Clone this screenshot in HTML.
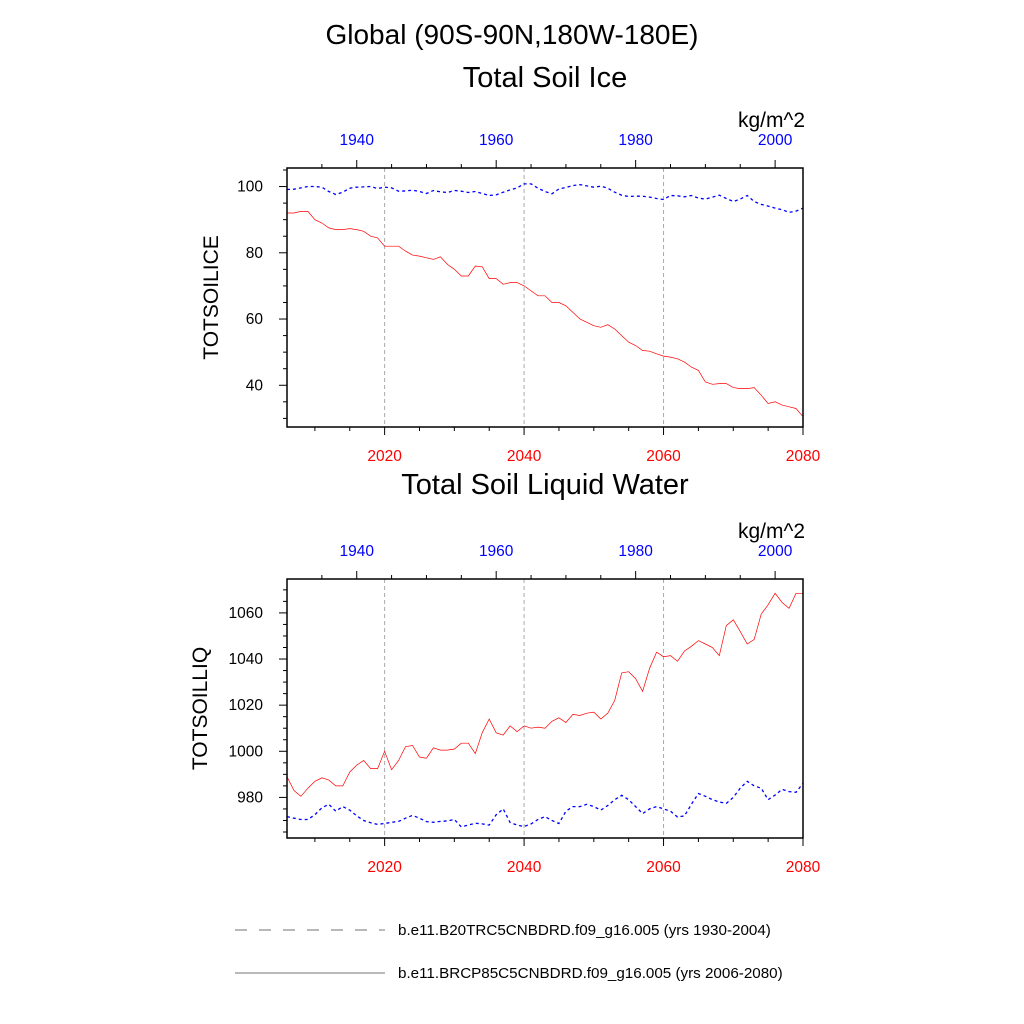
<!DOCTYPE html>
<html><head><meta charset="utf-8"><style>
body{margin:0;background:#fff}
svg{display:block;font-family:"Liberation Sans",sans-serif}
</style></head><body>
<svg id="c" width="1024" height="1024" xmlns="http://www.w3.org/2000/svg">
<text x="512" y="44" font-size="28" text-anchor="middle">Global (90S-90N,180W-180E)</text>
<text x="545" y="87" font-size="29" text-anchor="middle">Total Soil Ice</text>
<text x="545" y="494" font-size="29" text-anchor="middle">Total Soil Liquid Water</text>
<line x1="235" y1="930" x2="385" y2="930" stroke="#444" stroke-width="0.7" stroke-dasharray="12,12"/>
<text x="398" y="935" font-size="15.2">b.e11.B20TRC5CNBDRD.f09_g16.005 (yrs 1930-2004)</text>
<line x1="235" y1="973" x2="385" y2="973" stroke="#444" stroke-width="0.7"/>
<text x="398" y="978" font-size="15.2">b.e11.BRCP85C5CNBDRD.f09_g16.005 (yrs 2006-2080)</text>
</svg>
<script>
const iceFuture=[92,92,92.5,92.5,90,89,87.5,87,87,87.3,87,86.5,85,84.5,82,82,82,80.5,79.3,79,78.5,78,78.8,76.5,75,73,73,76,75.8,72.2,72.2,70.5,71,71,70,68.5,67,67,65,65,64,62,60,59,58,57.5,58.3,57,55,53,52,50.5,50.3,49.5,48.8,48.5,48,47,45.5,44.5,41,40.3,40.5,40.5,39.3,39,39,39.3,37,34.5,35,34,33.5,33,30.5];
const iceHist=[99.1,99.2,99.6,100,100,99.8,98.5,97.6,98.3,99.5,99.8,99.9,100,99.4,99.8,99.6,98.6,98.7,98.9,98.5,97.9,98.8,98.4,98.2,98.8,98.6,98.2,98.5,97.9,97.3,97.5,98.3,99,99.6,100.8,100.8,99.5,98.5,97.8,99.3,99.7,100.3,100.6,100.2,99.8,100.1,99.5,98.3,97.4,97,97.1,97.1,96.8,96.4,96.1,97.3,97.2,96.9,97.3,96.5,96.2,96.8,97.4,96.4,95.5,96.2,97.3,95.5,94.6,94.1,93.5,93,92.2,92.6,93.5];
const liqFuture=[989,983,980.5,984,987,988.5,987.5,985,985,991,994,996,992.5,992.5,1000,992,996,1002,1002.5,997.5,997,1001.5,1000.5,1000.5,1001,1003.5,1003.5,999,1008,1014,1008,1007,1011,1008.5,1011,1010,1010.5,1010,1013,1014.5,1012.5,1016,1015.5,1016.5,1017,1014,1016.5,1022,1034,1034.5,1031.5,1026,1036,1043,1041,1041.5,1039,1043.5,1045.5,1048,1046.5,1045,1041.5,1054.5,1057,1052,1046.5,1048.5,1059.5,1063.5,1068.5,1064.5,1062,1068.5,1068.5];
const liqHist=[971.7,971,970.4,970.4,972.5,975.5,977,974,976,974.5,972,970,969,968.3,968.7,969.2,969.6,971,972.2,971,969.5,969.2,969.6,969.8,970.4,967.2,968,968.8,968.5,968,972.5,975,969.1,968,967.4,968.5,970.4,971.7,970,968.7,974,976,976,977,976,974.5,976.5,979,980.9,979,976,973,975,976,975,974,971.5,972,977,981.7,980.5,979,978,977.4,980,984,987,985,984,979,981,983.5,982.5,982.2,986.1];
const bottomTicks=[2020,2040,2060,2080];
const topTicks=[1940,1960,1980,2000];
const iceTicks=[40,60,80,100];
const liqTicks=[980,1000,1020,1040,1060];

const svg=document.getElementById('c');
const NS='http://www.w3.org/2000/svg';
function mk(t,a,p){const e=document.createElementNS(NS,t);for(const k in a)e.setAttribute(k,a[k]);(p||svg).appendChild(e);return e;}
const X0=287,X1=803;
const xF=y=>X0+(y-2006)/74*(X1-X0);
const xH=y=>X0+(y-1930)/74*(X1-X0);

function panel(name,top,bot,ymin,ymax,yTicks,ylabel,fut,hist){
  const yS=v=>bot-(v-ymin)/(ymax-ymin)*(bot-top);
  const g=mk('g',{});
  
  
  [2020,2040,2060].forEach(t=>{const l=mk('line',{x1:xF(t),x2:xF(t),y1:top,y2:bot,stroke:'#aaa','stroke-width':1,'stroke-dasharray':'4,3'},g);
    });
  const pf=fut.map((v,i)=>xF(2006+i).toFixed(1)+','+yS(v).toFixed(1)).join(' ');
  const lf=mk('polyline',{points:pf,fill:'none',stroke:'#ff0000','stroke-width':0.7},g);
  
  const ph=hist.map((v,i)=>xH(1930+i).toFixed(1)+','+yS(v).toFixed(1)).join(' ');
  const lh=mk('polyline',{points:ph,fill:'none',stroke:'#0000ff','stroke-width':1.3,'stroke-dasharray':'3,3'},g);
  
  const fr=mk('rect',{x:X0,y:top,width:X1-X0,height:bot-top,fill:'none',stroke:'#000','stroke-width':1.5},g);
  
  for(let yr=2010;yr<=2080;yr+=5){const mj=yr%20==0;mk('line',{x1:xF(yr),x2:xF(yr),y1:bot,y2:bot+(mj?8:4),stroke:'#000','stroke-width':1},g);}
  bottomTicks.forEach(t=>{const e=mk('text',{x:xF(t),y:bot+34,'font-size':15.5,fill:'#ff0000','text-anchor':'middle'},g);e.textContent=t;
    });
  for(let yr=1935;yr<=2000;yr+=5){const mj=yr%20==0;mk('line',{x1:xH(yr),x2:xH(yr),y1:top,y2:top-(mj?8:4),stroke:'#000','stroke-width':1},g);}
  topTicks.forEach(t=>{const e=mk('text',{x:xH(t),y:top-23,'font-size':15.5,fill:'#0000ff','text-anchor':'middle'},g);e.textContent=t;
    });
  for(let v=Math.ceil(ymin/5)*5;v<=ymax;v+=5){const mj=v%20==0;mk('line',{x1:X0,x2:X0-(mj?8:4),y1:yS(v),y2:yS(v),stroke:'#000','stroke-width':1},g);}
  yTicks.forEach(t=>{const e=mk('text',{x:X0-24,y:yS(t)+5,'font-size':15.5,'text-anchor':'end'},g);e.textContent=t;
    });
  const yl=mk('text',{x:0,y:0,'font-size':21,'text-anchor':'middle',transform:`translate(${name=='ice'?218:207},${(top+bot)/2}) rotate(-90)`},g);
  yl.textContent=ylabel;
  const u=mk('text',{x:X1+2,y:top-41,'font-size':21,'text-anchor':'end'},g);
  u.textContent='kg/m^2';
}
panel('ice',168,427,27.4,105.6,iceTicks,'TOTSOILICE',iceFuture,iceHist);
panel('liquid',579,838,962.4,1074.7,liqTicks,'TOTSOILLIQ',liqFuture,liqHist);
</script>
</body></html>
